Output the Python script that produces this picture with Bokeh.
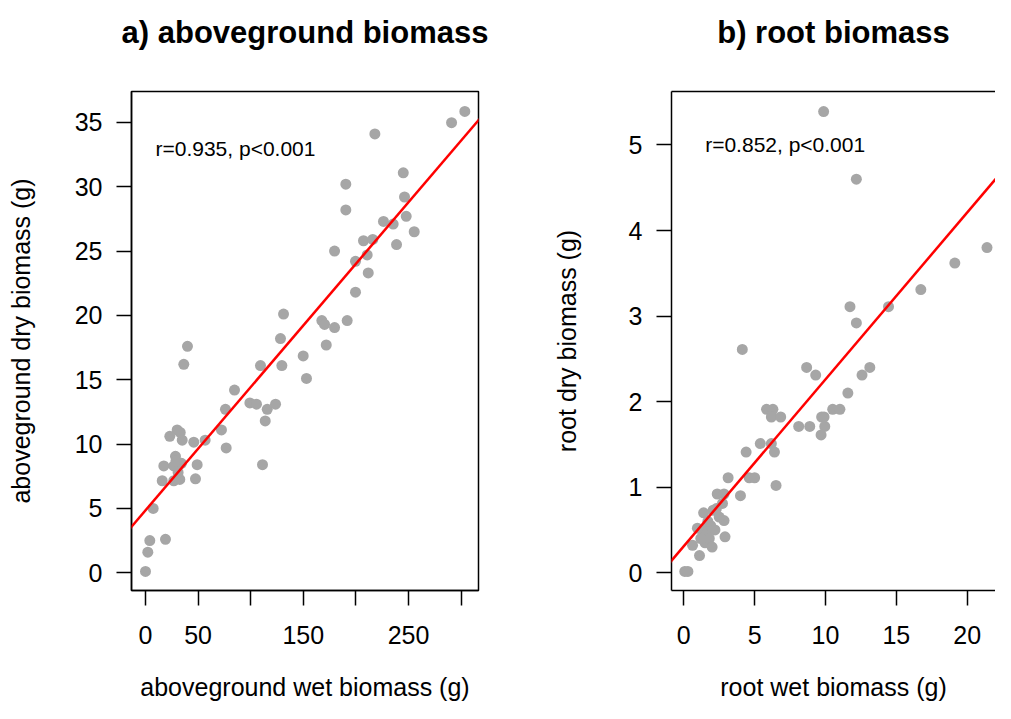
from bokeh.plotting import figure
from bokeh.layouts import row
from bokeh.models import FixedTicker, Range1d, Label, Slope, LinearAxis
from bokeh.embed import file_html
from bokeh.resources import INLINE

# ---- data: a) aboveground biomass ----
agb_wet = [303.5, 290.9, 218, 245, 190.4, 190.4, 246.2, 247.8, 255.4, 226.2, 235.4, 238.6, 207.2, 216,
           210.7, 179.7, 199.6, 211.7, 199.6, 131.2, 167.6, 170.2, 179.7, 191.7, 128.3, 171.8, 149.9, 153,
           39.9, 36.4, 109.3, 129.6, 84.6, 76, 99.2, 105.5, 115.7, 123.6, 113.8, 111.2, 72.2, 76.7, 56.7,
           45.9, 34.9, 30.1, 23.1, 49.1, 47.5, 17.4, 28.5, 26.9, 34.2, 15.9, 26.9, 32.6, 7.3, 4.1, 19, 2.2,
           0, 29, 33, 31]
agb_dry = [35.85, 34.98, 34.1, 31.08, 30.2, 28.2, 29.2, 27.7, 26.5, 27.3, 27.1, 25.5, 25.8, 25.9,
           24.7, 25.0, 24.2, 23.3, 21.8, 20.1, 19.6, 19.3, 19.05, 19.6, 18.2, 17.7, 16.85, 15.1,
           17.6, 16.2, 16.1, 16.1, 14.2, 12.7, 13.2, 13.1, 12.7, 13.1, 11.8, 8.4, 11.1, 9.7, 10.3,
           10.15, 10.3, 11.1, 10.6, 8.4, 7.3, 8.3, 9.05, 8.3, 8.5, 7.15, 7.15, 7.25, 5.0, 2.5, 2.6, 1.6,
           0.1, 8.7, 10.9, 7.8]
fit_a = [4.85, 0.0958]  # intercept, slope
stat_a = "r=0.935, p<0.001"
title_a = "a) aboveground biomass"
xticks_a = [0, 50, 100, 150, 200, 250, 300]
xlabels_a = {0: "0", 50: "50", 100: "", 150: "150", 200: "", 250: "250", 300: ""}
yticks_a = [0, 5, 10, 15, 20, 25, 30, 35]

# ---- data: b) root biomass ----
rb_wet = [9.87, 12.18, 21.4, 19.13, 16.73, 14.45, 11.73, 12.18, 4.13, 8.67, 9.31, 13.13, 12.58, 11.58,
          10.51, 11.02, 9.73, 9.95, 9.69, 9.9, 8.11, 8.89, 5.84, 6.29, 6.18, 6.84, 5.4, 6.18, 6.4, 4.4,
          3.13, 4.62, 5.0, 6.51, 4.0, 2.36, 2.84, 2.73, 2.07, 2.84, 0.96, 2.91, 0.62, 1.11, 0.07, 0.29,
          1.3, 1.6, 1.9, 1.5, 2.2, 1.8, 2.5, 1.2, 2.0, 1.7, 1.4, 2.3]
rb_dry = [5.39, 4.6, 3.80, 3.62, 3.31, 3.11, 3.11, 2.92, 2.61, 2.40, 2.31, 2.40, 2.31, 2.10,
          1.91, 1.91, 1.82, 1.71, 1.61, 1.82, 1.71, 1.71, 1.91, 1.91, 1.82, 1.82, 1.51, 1.51, 1.41, 1.41,
          1.11, 1.11, 1.11, 1.02, 0.90, 0.92, 0.92, 0.81, 0.73, 0.61, 0.52, 0.42, 0.32, 0.20, 0.015, 0.015,
          0.5, 0.45, 0.55, 0.35, 0.5, 0.4, 0.65, 0.4, 0.3, 0.6, 0.7, 0.75]
fit_b = [0.31, 0.195]
stat_b = "r=0.852, p<0.001"
title_b = "b) root biomass"
xticks_b = [0, 5, 10, 15, 20]
yticks_b = [0, 1, 2, 3, 4, 5]

FONT = "Liberation Sans"
PT_COLOR = "#A6A6A6"
H = 703
TOP = 91
FRAME_H = 499


def style(p, ystandoff):
    p.toolbar_location = None
    p.grid.visible = False
    p.background_fill_color = "white"
    p.border_fill_color = "white"
    for ax in p.xaxis + p.yaxis:
        ax.axis_label_text_font = FONT
        ax.axis_label_text_font_size = "25px"
        ax.axis_label_text_font_style = "normal"
        ax.axis_label_text_color = "black"
        ax.major_label_text_font = FONT
        ax.major_label_text_font_size = "25px"
        ax.major_label_text_color = "black"
        ax.minor_tick_line_color = None
        ax.major_tick_in = 0
        ax.major_tick_out = 15
        ax.major_tick_line_color = "black"
        ax.major_tick_line_width = 1.5
        ax.axis_line_color = "black"
        ax.axis_line_width = 1.5
        ax.major_label_standoff = 14
    p.xaxis.major_label_standoff = 20
    p.xaxis.axis_label_standoff = 26
    p.yaxis.axis_label_standoff = ystandoff


def title_axis(text, line_color):
    # a tick-less axis on top of the frame whose label acts as the panel title
    return LinearAxis(ticker=FixedTicker(ticks=[]), major_label_text_font_size="0px",
                      major_label_standoff=0, major_tick_out=0, major_tick_in=0,
                      axis_line_color=line_color, axis_line_width=1.5,
                      major_tick_line_color=None, minor_tick_line_color=None,
                      axis_label=text, axis_label_text_font=FONT,
                      axis_label_text_font_size="31px", axis_label_text_font_style="bold",
                      axis_label_text_color="black", axis_label_standoff=42)


# ---- panel a ----
p1 = figure(width=540, height=H, output_backend="svg", toolbar_location=None,
            x_range=Range1d(-13.3, 316.5), y_range=Range1d(-1.38, 37.4),
            min_border_left=131, min_border_right=62, min_border_top=TOP,
            min_border_bottom=H - TOP - FRAME_H,
            x_axis_label="aboveground wet biomass (g)", y_axis_label="aboveground dry biomass (g)")
p1.outline_line_color = "black"
p1.outline_line_width = 1.5
p1.scatter(agb_wet, agb_dry, size=11, color=PT_COLOR, line_color=None)
p1.add_layout(Slope(gradient=fit_a[1], y_intercept=fit_a[0], line_color="red", line_width=2.5))
p1.add_layout(Label(x=9.5, y=33.0, text=stat_a, text_font=FONT, text_font_size="21px",
                    text_baseline="middle", text_color="black"))
style(p1, 37)
p1.xaxis.ticker = FixedTicker(ticks=xticks_a)
p1.xaxis.major_label_overrides = xlabels_a
p1.yaxis.ticker = FixedTicker(ticks=yticks_a)
p1.add_layout(title_axis(title_a, None), "above")

# ---- panel b ----
p2 = figure(width=455, height=H, output_backend="svg", toolbar_location=None,
            x_range=Range1d(-0.867, 22.0), y_range=Range1d(-0.208, 5.625),
            min_border_left=131, min_border_right=0, min_border_top=TOP,
            min_border_bottom=H - TOP - FRAME_H,
            x_axis_label="root wet biomass (g)", y_axis_label="root dry biomass (g)")
p2.outline_line_color = None
p2.scatter(rb_wet, rb_dry, size=11, color=PT_COLOR, line_color=None)
p2.add_layout(Slope(gradient=fit_b[1], y_intercept=fit_b[0], line_color="red", line_width=2.5))
p2.add_layout(Label(x=1.51, y=5.0, text=stat_b, text_font=FONT, text_font_size="21px",
                    text_baseline="middle", text_color="black"))
style(p2, 45)
p2.xaxis.ticker = FixedTicker(ticks=xticks_b)
p2.yaxis.ticker = FixedTicker(ticks=yticks_b)
p2.add_layout(title_axis(title_b, "black"), "above")

layout = row(p1, p2)
open("out.html", "w").write(file_html(layout, INLINE))
